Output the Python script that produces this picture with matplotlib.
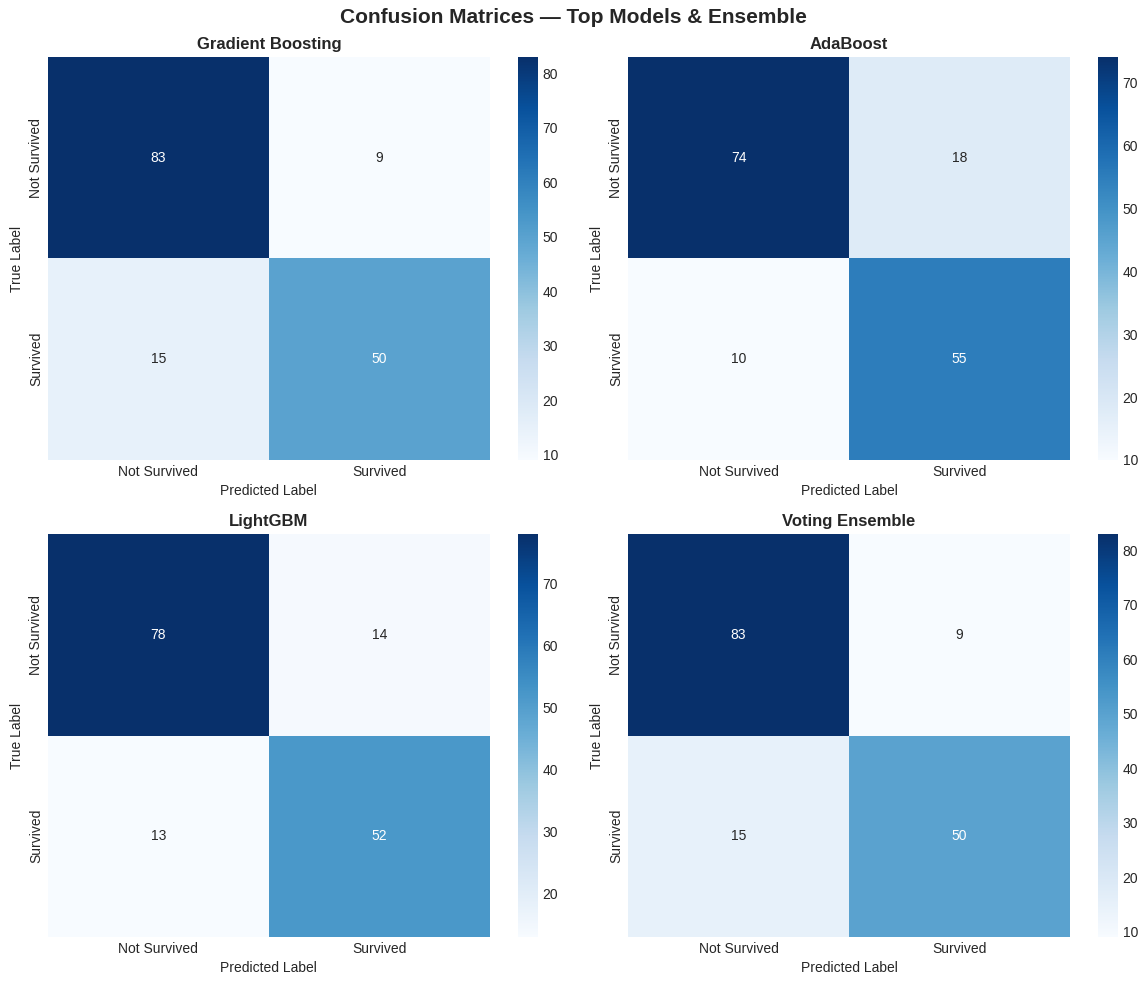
import numpy as np
import matplotlib
matplotlib.use("Agg")
from matplotlib import pyplot as plt  # noqa
import seaborn as sns

plt.style.use('seaborn-v0_8-whitegrid')

model_names = ['Gradient Boosting', 'AdaBoost', 'LightGBM', 'Voting Ensemble']
class_labels = ['Not Survived', 'Survived']

cm_gradient_boosting = [[83, 9], [15, 50]]
cm_adaboost = [[74, 18], [10, 55]]
cm_lightgbm = [[78, 14], [13, 52]]
cm_voting = [[83, 9], [15, 50]]

matrices = [cm_gradient_boosting, cm_adaboost, cm_lightgbm, cm_voting]

fig, axes = plt.subplots(2, 2, figsize=(11.47, 9.85), dpi=100)
fig.subplots_adjust(left=0.0418, right=1.0292, top=0.9421, bottom=0.0487,
                    wspace=0.05, hspace=0.184)

for ax, name, cm in zip(axes.flat, model_names, matrices):
    sns.heatmap(np.array(cm), annot=True, fmt='d', cmap='Blues', ax=ax,
                xticklabels=class_labels, yticklabels=class_labels)
    ax.set_title(name, fontsize=12, fontweight='bold')
    ax.set_xlabel('Predicted Label')
    ax.set_ylabel('True Label')

fig.suptitle('Confusion Matrices \u2014 Top Models & Ensemble', fontsize=15,
             fontweight='bold', y=0.992)
plt.savefig('out.png', dpi=100)
